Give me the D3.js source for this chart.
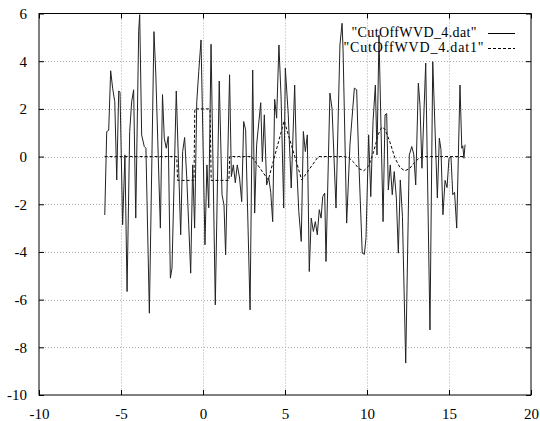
<!DOCTYPE html>
<html>
<head>
<meta charset="utf-8">
<script src="https://cdn.jsdelivr.net/npm/d3@7"></script>
<style>
html,body{margin:0;padding:0;background:#fff;}
svg{display:block;}
svg text{font-family:'Liberation Serif','Times New Roman',Times,'DejaVu Serif',serif !important;fill:#000;}
</style>
</head>
<body>
<svg id="chart" width="540" height="421"></svg>
<script>
// ---- data ----
const xTicks = [-10, -5, 0, 5, 10, 15, 20];
const yTicks = [-10, -8, -6, -4, -2, 0, 2, 4, 6];
const seriesNames = ['"CutOffWVD_4.dat"', '"CutOffWVD_4.dat1"'];

const solidX = [-5.99,-5.87,-5.75,-5.63,-5.51,-5.38,-5.26,-5.14,-5.06,-4.90,-4.76,-4.63,-4.47,-4.35,-4.23,-4.10,-3.92,-3.86,-3.74,-3.58,-3.48,-3.27,-2.99,-2.88,-2.60,-2.47,-2.36,-2.24,-2.12,-1.99,-1.89,-1.63,-1.36,-1.24,-1.12,-0.99,-0.87,-0.75,-0.63,-0.51,-0.38,-0.26,-0.12,0.12,0.24,0.35,0.49,0.75,0.99,1.16,1.28,1.38,1.62,1.73,1.85,1.97,2.09,2.23,2.36,2.48,2.60,2.87,3.03,3.15,3.27,3.52,3.62,3.74,3.88,4.01,4.13,4.25,4.37,4.49,4.63,4.76,4.92,5.02,5.20,5.38,5.59,5.71,5.84,5.99,6.12,6.24,6.36,6.48,6.60,6.73,6.85,6.97,7.09,7.20,7.30,7.42,7.50,7.74,7.87,8.11,8.35,8.48,8.54,8.76,8.96,9.23,9.37,9.49,9.71,9.84,9.94,10.10,10.23,10.37,10.51,10.61,10.73,10.98,11.10,11.20,11.30,11.42,11.54,11.66,11.79,11.91,12.03,12.16,12.36,12.58,12.73,12.85,12.97,13.13,13.23,13.35,13.58,13.84,14.01,14.29,14.41,14.51,14.63,14.76,14.88,15.00,15.12,15.23,15.34,15.47,15.67,15.78,15.84,15.91,15.98];
const solidY = [-2.45,1.05,1.1,3.6,2.87,2.3,-0.98,2.75,2.7,-2.86,0.07,-5.66,1.05,2.3,2.8,-2.58,5.3,5.95,0.9,0.42,0.35,-6.57,5.24,3.5,-3.0,2.6,0.77,0.35,0.84,-5.1,-4.68,2.75,-3.28,0.21,0.8,-0.9,-2.86,-4.89,-0.35,-3.0,2.3,3.56,4.89,-3.7,-0.35,-2.15,4.71,-6.22,3.17,-1.6,-2.03,-4.12,3.43,-0.84,-0.35,-1.1,-0.35,-0.9,-1.89,1.47,1.12,-6.43,3.63,-2.37,0.49,2.26,-0.21,1.75,-1.19,-0.9,-1.5,-2.73,2.4,1.61,4.68,2.5,-2.16,3.71,1.75,-1.32,3.0,-0.35,-2.3,-3.56,1.05,0.21,0.91,-4.82,-2.58,-3.14,-2.73,-3.28,-2.23,-2.58,-1.68,-1.53,-4.4,2.66,2.0,-2.16,4.68,5.59,4.5,-2.79,0.49,2.87,2.8,0.0,-4.05,-4.1,-3.4,0.91,-1.68,1.5,3.0,0.07,5.1,-2.73,1.75,1.8,-1.4,-0.35,-1.6,-0.63,-1.74,-4.05,-0.98,-2.5,-8.66,0.07,0.42,0.1,-1.19,3.08,2.17,-0.49,3.92,-7.27,3.98,-1.74,0.77,0.3,-2.44,-1.0,-1.3,-0.07,0.0,-1.6,-1.5,-3.0,3.0,0.35,0.45,-0.07,0.5];

const dashX = [-6.0,-1.6,-1.55,-0.55,-0.5,0.43,0.5,1.58,1.63,2.97,3.98,4.95,6.02,7.03,8.6,8.9,9.2,9.5,9.8,10.1,10.4,10.7,10.9,11.1,11.4,11.7,12.0,12.3,12.6,12.9,13.2,13.4,15.9];
const dashY = [0,0,-1,-1,2,2,-1,-1,0,0,-0.98,1.5,-0.98,0,0,-0.05,-0.25,-0.5,-0.6,-0.4,0.2,0.95,1.23,1.15,0.6,-0.05,-0.45,-0.6,-0.5,-0.25,-0.05,0,0];

// ---- layout ----
const FONT = "'Liberation Serif','Times New Roman',Times,'DejaVu Serif',serif";
const svg = d3.select("#chart");
const L = 39, R = 531, T = 13.5, B = 395;
const x = d3.scaleLinear().domain([-10, 20]).range([L, R]);
const y = d3.scaleLinear().domain([-10, 6]).range([B, T]);
const fmt = d => String(d);

// grid
const grid = svg.append("g");
grid.selectAll("line.gx").data(xTicks.slice(1, -1)).join("line")
  .attr("x1", d => Math.round(x(d)) + 0.5).attr("x2", d => Math.round(x(d)) + 0.5)
  .attr("y1", T).attr("y2", B)
  .attr("stroke", "#aaa").attr("stroke-width", 1).attr("stroke-dasharray", "1,2");
grid.selectAll("line.gy").data(yTicks.slice(1, -1)).join("line")
  .attr("y1", d => Math.round(y(d)) + 0.5).attr("y2", d => Math.round(y(d)) + 0.5)
  .attr("x1", L).attr("x2", R)
  .attr("stroke", "#aaa").attr("stroke-width", 1).attr("stroke-dasharray", "1,2");

// axes with mirrored inward ticks
const tk = 5;
svg.append("g").attr("transform", `translate(0,${B})`)
  .call(d3.axisBottom(x).tickValues(xTicks).tickSize(-tk).tickPadding(10).tickFormat(fmt))
  .attr("font-family", FONT).attr("font-size", 15)
  .call(g => g.select(".domain").remove())
  .call(g => g.selectAll("text").attr("dy", "0.9em"));
svg.append("g").attr("transform", `translate(0,${T})`)
  .call(d3.axisTop(x).tickValues(xTicks).tickSize(-tk).tickFormat(""))
  .call(g => g.select(".domain").remove());
svg.append("g").attr("transform", `translate(${L},0)`)
  .call(d3.axisLeft(y).tickValues(yTicks).tickSize(-tk).tickPadding(12).tickFormat(fmt))
  .attr("font-family", FONT).attr("font-size", 15)
  .call(g => g.select(".domain").remove());
svg.append("g").attr("transform", `translate(${R},0)`)
  .call(d3.axisRight(y).tickValues(yTicks).tickSize(-tk).tickFormat(""))
  .call(g => g.select(".domain").remove());
svg.selectAll(".tick line").attr("stroke", "#000");

// frame
svg.append("rect").attr("x", L).attr("y", T).attr("width", R - L).attr("height", B - T)
  .attr("fill", "none").attr("stroke", "#000").attr("stroke-width", 1);

// series
const line = d3.line().x(d => x(d[0])).y(d => y(d[1]));
const solidData = solidX.map((v, i) => [v, solidY[i]]);
const dashData = dashX.map((v, i) => [v, dashY[i]]);
svg.append("path").datum(dashData).attr("d", line)
  .attr("fill", "none").attr("stroke", "#000").attr("stroke-width", 1).attr("stroke-dasharray", "3,2");
svg.append("path").datum(solidData).attr("d", line)
  .attr("fill", "none").attr("stroke", "#222").attr("stroke-width", 1);

// legend
const leg = svg.append("g").attr("font-family", FONT).attr("font-size", 14);
leg.append("text").attr("x", 351.5).attr("y", 37).attr("textLength", 125).text(seriesNames[0]);
leg.append("text").attr("x", 343.5).attr("y", 52).attr("textLength", 140).text(seriesNames[1]);
leg.append("line").attr("x1", 488).attr("x2", 515).attr("y1", 33.5).attr("y2", 33.5)
  .attr("stroke", "#000").attr("stroke-width", 1);
leg.append("line").attr("x1", 488).attr("x2", 515).attr("y1", 48.5).attr("y2", 48.5)
  .attr("stroke", "#000").attr("stroke-width", 1).attr("stroke-dasharray", "3,2");
</script>
</body>
</html>
